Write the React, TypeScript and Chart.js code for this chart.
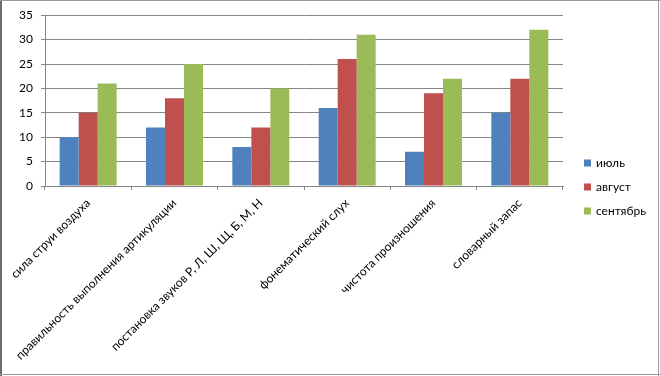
import React, { useEffect, useRef } from "react";
import { Chart, registerables } from "chart.js";

Chart.register(...registerables);

const categories = [
  "сила струи воздуха",
  "правильность выполнения артикуляции",
  "постановка звуков Р, Л, Ш, Щ, Б, М, Н",
  "фонематический слух",
  "чистота произношения",
  "словарный запас",
];
const julyValues = [10, 12, 8, 16, 7, 15];
const augustValues = [15, 18, 12, 26, 19, 22];
const septemberValues = [21, 25, 20, 31, 22, 32];
const seriesNames = ["июль", "август", "сентябрь"];
const seriesColors = ["#4F81BD", "#C0504D", "#9BBB59"];
const yMax = 35;
const yStep = 5;

const FONT = "Lato";

const borderPlugin = {
  id: "frameBorder",
  afterDraw(chart: any) {
    const ctx = chart.ctx;
    const w = chart.width;
    const h = chart.height;
    ctx.save();
    ctx.fillStyle = "#6e6e6e";
    ctx.fillRect(0, 0, 2, h);
    ctx.fillStyle = "#9a9a9a";
    ctx.fillRect(0, 0, w, 1);
    ctx.fillRect(w - 2, 0, 1, h);
    ctx.fillRect(0, h - 2, w, 1);
    ctx.restore();
  },
};

const legendPlugin = {
  id: "sideLegend",
  afterDraw(chart: any) {
    const ctx = chart.ctx;
    const ds = chart.data.datasets;
    const x = chart.chartArea.right + 21;
    const spacing = 24;
    const y0 = chart.height / 2 - ((ds.length - 1) * spacing) / 2 - 1;
    ctx.save();
    ctx.font = `12px ${FONT}`;
    ctx.textBaseline = "middle";
    ctx.textAlign = "left";
    ds.forEach((d: any, i: number) => {
      const y = y0 + i * spacing;
      ctx.fillStyle = d.backgroundColor;
      ctx.fillRect(x, y - 3.5, 7, 7);
      ctx.fillStyle = "#000";
      ctx.fillText(d.label, x + 12, y);
    });
    ctx.restore();
  },
};

export default function App() {
  const ref = useRef<HTMLCanvasElement | null>(null);
  useEffect(() => {
    document.body.style.margin = "0";
    const chart = new Chart(ref.current as HTMLCanvasElement, {
      type: "bar",
      data: {
        labels: categories,
        datasets: [
          { label: seriesNames[0], data: julyValues, backgroundColor: seriesColors[0] },
          { label: seriesNames[1], data: augustValues, backgroundColor: seriesColors[1] },
          { label: seriesNames[2], data: septemberValues, backgroundColor: seriesColors[2] },
        ],
      },
      options: {
        animation: false,
        responsive: false,
        maintainAspectRatio: false,
        layout: { padding: { top: 9, left: 0, right: 97, bottom: 0 } },
        datasets: {
          bar: { categoryPercentage: 0.66, barPercentage: 1 },
        },
        plugins: {
          tooltip: { enabled: false },
          legend: { display: false },
        },
        scales: {
          x: {
            offset: true,
            afterFit: (scale: any) => {
              scale.height = 190;
            },
            grid: {
              offset: true,
              drawOnChartArea: false,
              drawTicks: true,
              tickLength: 4,
              color: "#868686",
            },
            border: { color: "#868686" },
            ticks: {
              color: "#000",
              font: { family: FONT, size: 12 },
              maxRotation: 45,
              minRotation: 45,
              autoSkip: false,
              padding: 6,
            },
          },
          y: {
            min: 0,
            max: yMax,
            afterFit: (scale: any) => {
              scale.width = 45;
            },
            grid: { color: "#868686", tickLength: 4 },
            border: { color: "#868686" },
            ticks: {
              stepSize: yStep,
              color: "#000",
              font: { family: FONT, size: 12 },
              padding: 8,
            },
          },
        },
      },
      plugins: [borderPlugin, legendPlugin],
    } as any);
    return () => chart.destroy();
  }, []);
  return (
    <div style={{ width: 660, height: 376 }}>
      <canvas ref={ref} width={660} height={376} style={{ display: "block" }} />
    </div>
  );
}
